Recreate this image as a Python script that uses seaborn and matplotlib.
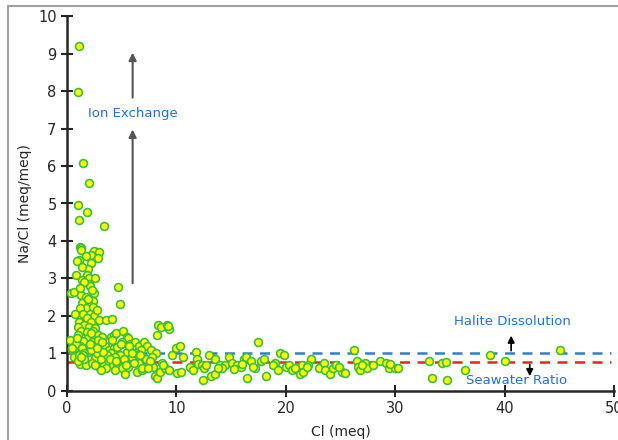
import numpy as np
import pandas as pd
import seaborn as sns
import matplotlib.pyplot as plt
from matplotlib.patches import Rectangle

# Cl (meq) vs Na/Cl (meq/meq)
cl = [
    1.1, 1.0, 1.5, 2.0, 1.0, 1.8, 1.1, 3.4, 1.2, 1.3, 1.3, 2.5, 2.9, 2.2, 1.7, 2.8,
    1.1, 0.9, 2.2, 1.9, 0.8, 1.8, 2.0, 1.4, 2.0, 2.1, 4.7, 0.4, 0.6, 2.5, 1.3, 1.7,
    2.4, 1.4, 2.0, 4.8, 1.7, 1.2, 2.4, 0.7, 1.5, 2.1, 2.5, 1.8, 2.9, 3.6, 4.1, 1.1,
    2.2, 1.6, 1.0, 2.0, 2.6, 1.3, 1.8, 2.4, 1.0, 2.8, 3.2, 1.9, 0.3, 0.9, 1.5, 2.3,
    4.0, 4.3, 4.5, 5.1, 5.5, 5.6, 0.7, 1.2, 2.5, 3.0, 3.5, 3.8, 4.3, 4.6, 5.0, 5.8,
    6.2, 6.6, 7.0, 7.3, 7.7, 8.1, 8.2, 8.3, 8.6, 9.1, 9.3, 9.2, 6.8, 6.3, 5.5, 4.8,
    4.0, 3.5, 3.0, 2.6, 1.2, 1.7, 2.9, 3.4, 3.8, 4.2, 4.6, 5.0, 5.3, 5.6, 6.0, 6.4,
    6.6, 6.9, 7.1, 7.5, 7.9, 8.0, 8.2, 8.5, 8.7, 9.0, 9.3, 9.6, 10.0, 10.3, 10.1, 10.4,
    10.6, 11.8, 11.9, 12.0, 12.3, 12.5, 12.4, 13.0, 13.5, 13.2, 13.5, 14.0, 14.4, 14.8, 15.1, 15.5,
    15.9, 16.2, 16.4, 16.5, 16.8, 17.2, 17.5, 17.7, 18.0, 18.2, 19.0, 19.5, 19.8, 20.0, 20.3, 20.6,
    21.0, 21.3, 21.5, 21.6, 22.3, 23.0, 23.5, 23.6, 24.0, 24.3, 24.6, 25.1, 25.4, 26.2, 26.5, 26.6,
    26.8, 27.2, 27.4, 28.0, 28.6, 29.2, 29.4, 30.0, 30.3, 33.1, 33.4, 34.3, 34.7, 36.4, 38.7, 40.0,
    45.1, 34.6, 0.5, 0.8, 1.4, 1.9, 2.7, 3.1, 3.7, 4.4, 0.6, 1.1, 1.6, 2.2, 2.8, 3.3,
    3.9, 4.5, 5.2, 5.9, 6.5, 7.2, 7.8, 0.9, 1.5, 2.1, 2.7, 3.2, 4.1, 4.9, 5.7, 6.1,
    6.9, 7.6, 1.0, 1.6, 2.3, 3.6, 4.4, 5.4, 0.5, 1.3, 2.6, 3.1, 5.9, 6.7, 7.4, 8.8,
    11.2, 12.7, 14.2, 15.3, 16.0, 18.8, 20.8, 22.0, 24.9, 27.0, 29.5, 11.5, 13.8, 17.0, 19.3, 21.9,
    1.6, 2.3, 1.4, 2.6, 1.9, 2.2, 1.2, 2.7,
]
na_cl = [
    9.2, 7.97, 6.08, 5.55, 4.97, 4.78, 4.55, 4.4, 3.84, 3.8, 3.75, 3.72, 3.7, 3.63, 3.6, 3.55,
    3.5, 3.47, 3.4, 3.25, 3.08, 3.1, 3.0, 2.95, 2.85, 2.8, 2.78, 2.6, 2.65, 2.6, 2.55, 2.5,
    2.4, 2.35, 2.3, 2.32, 2.2, 2.2, 2.25, 2.05, 2.05, 2.05, 2.0, 1.95, 1.9, 1.88, 1.92, 1.85,
    1.83, 1.75, 1.7, 1.7, 1.68, 1.6, 1.58, 1.6, 1.5, 1.5, 1.45, 1.4, 1.35, 1.3, 1.33, 1.3,
    1.45, 1.5, 1.55, 1.6, 1.45, 1.4, 1.15, 1.2, 1.2, 1.25, 1.2, 1.1, 1.15, 1.18, 1.3, 1.25,
    1.3, 1.2, 1.3, 1.2, 1.1, 1.0, 1.5, 1.75, 1.7, 1.75, 1.65, 1.72, 1.1, 1.0, 1.05, 0.95,
    1.0, 0.95, 0.9, 0.88, 0.72, 0.68, 0.65, 0.7, 0.78, 0.68, 0.72, 0.6, 0.45, 0.65, 0.8, 0.5,
    0.75, 0.55, 0.85, 0.7, 0.65, 0.4, 0.35, 0.5, 0.75, 0.6, 0.55, 0.95, 1.15, 1.2, 0.48, 0.5,
    0.9, 1.05, 0.85, 0.72, 0.68, 0.6, 0.3, 0.95, 0.85, 0.4, 0.45, 0.7, 0.7, 0.9, 0.75, 0.7,
    0.65, 0.85, 0.9, 0.35, 0.8, 0.6, 1.3, 0.8, 0.85, 0.4, 0.75, 1.0, 0.95, 0.65, 0.7, 0.55,
    0.6, 0.45, 0.7, 0.5, 0.85, 0.6, 0.75, 0.55, 0.45, 0.6, 0.7, 0.5, 0.48, 1.1, 0.8, 0.65,
    0.55, 0.75, 0.6, 0.7, 0.8, 0.75, 0.6, 0.6, 0.6, 0.8, 0.35, 0.75, 0.3, 0.55, 0.95, 0.8,
    1.1, 0.78, 1.1, 1.25, 1.15, 1.05, 1.0, 0.85, 0.95, 0.9, 0.9, 0.95, 1.0, 1.1, 1.35, 1.05,
    0.85, 0.8, 0.85, 0.9, 0.95, 0.85, 0.9, 1.4, 0.95, 1.25, 1.15, 1.3, 1.35, 1.25, 1.2, 0.75,
    0.6, 0.8, 0.8, 0.85, 0.75, 0.6, 0.55, 0.7, 1.15, 0.9, 0.7, 0.55, 1.0, 0.95, 0.62, 0.7,
    0.65, 0.7, 0.62, 0.58, 0.72, 0.68, 0.62, 0.7, 0.65, 0.68, 0.72, 0.55, 0.6, 0.65, 0.55, 0.65,
    2.9, 2.7, 3.3, 3.0, 2.45, 1.55, 2.75, 2.15,
]
x_ticks = [0, 10, 20, 30, 40, 50]
y_ticks = list(range(0, 11))
halite_ratio = 1.0
seawater_ratio = 0.78

df = pd.DataFrame({"cl": cl, "na_cl": na_cl})

sns.set_style("ticks")
plt.rcParams["font.family"] = ["DejaVu Sans"]

fig = plt.figure(figsize=(6.18, 4.40), dpi=100)
ax = fig.add_axes([0.1084, 0.1114, 0.8851, 0.8522])

# grey frame round the chart
fig.patches.append(Rectangle((8 / 618, -0.05), 1.2, (434 / 440) + 0.05, transform=fig.transFigure,
                             fill=False, edgecolor="#a0a0a0", linewidth=1.5))

ax.axhline(halite_ratio, xmin=0, xmax=0.995, color="#2a7fd6", linestyle=(0, (4, 3)), linewidth=1.8, zorder=1)
ax.axhline(seawater_ratio, xmin=0, xmax=0.995, color="#f0201e", linestyle=(0, (4, 3)), linewidth=1.8, zorder=1)

sns.scatterplot(data=df, x="cl", y="na_cl", ax=ax, color="#ffff00", edgecolor="#3cbf3c",
                linewidth=1.2, s=32, zorder=3)

# annotations
arrow_kw = dict(arrowstyle="-|>,head_width=0.22,head_length=0.45", color="#555555", lw=1.5)
ax.annotate("", xy=(6.0, 7.05), xytext=(6.0, 2.8), arrowprops=arrow_kw)
ax.annotate("", xy=(6.0, 9.1), xytext=(6.0, 7.75), arrowprops=arrow_kw)
ax.text(6.0, 7.4, "Ion Exchange", color="#1f6fe8", ha="center", va="center", fontsize=9.5)
small_arrow = dict(arrowstyle="-|>,head_width=0.2,head_length=0.4", color="black", lw=1.2)
ax.annotate("", xy=(40.6, 1.55), xytext=(40.6, 1.0), arrowprops=small_arrow)
ax.text(40.7, 1.84, "Halite Dissolution", color="#1f6fe8", ha="center", va="center", fontsize=9.5)
ax.annotate("", xy=(42.3, 0.32), xytext=(42.3, 0.78), arrowprops=small_arrow)
ax.text(41.1, 0.29, "Seawater Ratio", color="#1f6fe8", ha="center", va="center", fontsize=9.5)

ax.set_xlim(0, 50)
ax.set_ylim(0, 10)
ax.set_xticks(x_ticks)
ax.set_yticks(y_ticks)
ax.set_xlabel("Cl (meq)", fontsize=10, labelpad=6)
ax.set_ylabel("Na/Cl (meq/meq)", fontsize=10)
ax.tick_params(axis="both", direction="inout", length=8, width=1.5, labelsize=10.5)
for side in ["top", "right"]:
    ax.spines[side].set_visible(False)
for side in ["left", "bottom"]:
    ax.spines[side].set_linewidth(1.8)
ax.patch.set_alpha(0)

fig.savefig("out.png", dpi=100)
